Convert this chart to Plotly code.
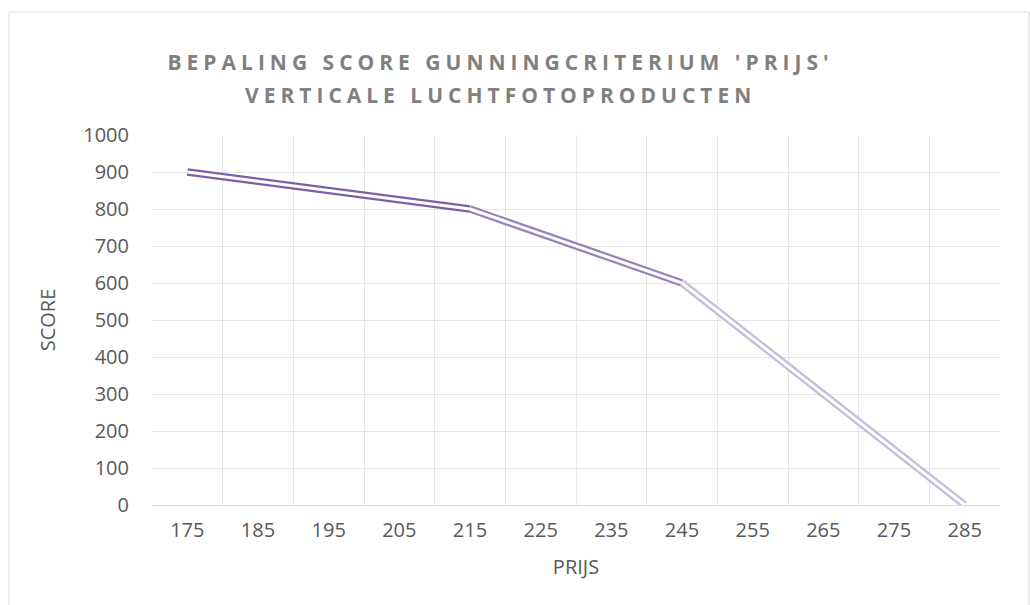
import plotly.graph_objects as go

# ---- data ----
prijs_ticks = [175, 185, 195, 205, 215, 225, 235, 245, 255, 265, 275, 285]
seg1_x = [175, 215]
seg1_y = [900, 800]
seg2_x = [215, 245]
seg2_y = [800, 600]
seg3_x = [245, 285]
seg3_y = [600, 0]
score_ticks = [0, 100, 200, 300, 400, 500, 600, 700, 800, 900, 1000]

title_lines = ["BEPALING SCORE GUNNINGCRITERIUM 'PRIJS'", "VERTICALE LUCHTFOTOPRODUCTEN"]

colors = ["#7b60a8", "#9884bd", "#c6bbdb"]
segments = [(seg1_x, seg1_y), (seg2_x, seg2_y), (seg3_x, seg3_y)]

W, H = 1030, 605
ml, mr, mt, mb = 152, 30, 135, 100
ph = H - mt - mb

fig = go.Figure()
for (xs, ys), c in zip(segments, colors):
    fig.add_trace(go.Scatter(x=xs, y=ys, mode="lines",
                             line=dict(color=c, width=7.5), hoverinfo="skip",
                             showlegend=False))
    fig.add_trace(go.Scatter(x=xs, y=ys, mode="lines",
                             line=dict(color="white", width=3), hoverinfo="skip",
                             showlegend=False))

font_family = "Open Sans, Lato, sans-serif"
grid_c = "#e6e6e6"

def ypix(p):
    return (H - mb - p) / ph

annots = []
for txt, yp in zip(title_lines, [62, 95]):
    annots.append(dict(text=txt, xref="paper", yref="paper",
                       x=(500 - ml) / (W - ml - mr), y=ypix(yp),
                       xanchor="center", yanchor="middle", showarrow=False,
                       font=dict(family=font_family, size=21, color="#808080", weight="bold")))

fig.update_layout(
    width=W, height=H,
    margin=dict(l=ml, r=mr, t=mt, b=mb),
    paper_bgcolor="white", plot_bgcolor="white",
    font=dict(family=font_family, color="#595959", size=20),
    annotations=annots,
    xaxis=dict(range=[170, 290], tickvals=prijs_ticks, ticktext=[str(v) for v in prijs_ticks],
               showgrid=False, zeroline=False, showline=True, linecolor="#d9d9d9",
               ticks="", ticklabelstandoff=7,
               minor=dict(tickvals=list(range(170, 291, 10)), showgrid=True,
                          gridcolor=grid_c, gridwidth=1, ticks=""),
               title=dict(text="PRIJS", standoff=17, font=dict(size=20, color="#595959")),
               fixedrange=True),
    yaxis=dict(range=[0, 1000], tickvals=score_ticks, showgrid=True, gridcolor=grid_c,
               zeroline=False, showline=False, ticks="", ticklabelstandoff=22,
               title=dict(text="SCORE", standoff=22, font=dict(size=20, color="#595959")),
               fixedrange=True),
    shapes=[dict(type="rect", xref="paper", yref="paper",
                 x0=(9 - ml) / (W - ml - mr), x1=(1029 - ml) / (W - ml - mr),
                 y0=-(mb + 10) / ph,
                 y1=1 + (mt - 12) / ph,
                 line=dict(color="#d9d9d9", width=1), layer="below")],
)

post = """
document.body.style.margin='0';
document.body.style.padding='0';
var gd = document.getElementById('{plot_id}');
function ls(){ gd.querySelectorAll('.annotation-text').forEach(function(e){ e.style.letterSpacing='5px'; }); }
ls();
gd.on('plotly_afterplot', ls);
"""

fig.write_html("out.html", post_script=post, config={"displayModeBar": False})
